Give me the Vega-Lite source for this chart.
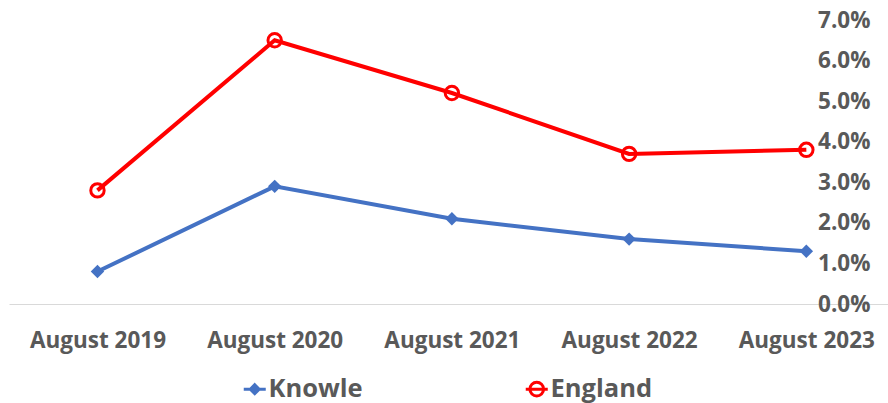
{
  "$schema": "https://vega.github.io/schema/vega-lite/v6.json",
  "width": 879,
  "height": 284,
  "autosize": "none",
  "padding": {"left": 9, "top": 20, "right": 0, "bottom": 99},
  "background": "white",
  "config": {"view": {"stroke": null}, "font": "Open Sans, sans-serif"},
  "data": {
    "values": [
      {"month": "August 2019", "series": "Knowle", "value": 0.008},
      {"month": "August 2020", "series": "Knowle", "value": 0.029},
      {"month": "August 2021", "series": "Knowle", "value": 0.021},
      {"month": "August 2022", "series": "Knowle", "value": 0.016},
      {"month": "August 2023", "series": "Knowle", "value": 0.013},
      {"month": "August 2019", "series": "England", "value": 0.028},
      {"month": "August 2020", "series": "England", "value": 0.065},
      {"month": "August 2021", "series": "England", "value": 0.052},
      {"month": "August 2022", "series": "England", "value": 0.037},
      {"month": "August 2023", "series": "England", "value": 0.038}
    ]
  },
  "encoding": {
    "x": {
      "field": "month", "type": "ordinal", "sort": null,
      "scale": {"type": "point", "padding": 0.48, "align": 0.52},
      "axis": {"title": null, "labelAngle": 0, "ticks": false, "grid": false,
        "domainColor": "#D9D9D9", "domainWidth": 1, "labelPadding": 25,
        "labelFontSize": 22.5, "labelFontWeight": "bold", "labelColor": "#595959"}
    },
    "y": {
      "field": "value", "type": "quantitative",
      "scale": {"domain": [0, 0.07]},
      "axis": {"orient": "right", "title": null,
        "values": [0, 0.01, 0.02, 0.03, 0.04, 0.05, 0.06, 0.07],
        "format": ".1%", "ticks": false, "domain": false, "grid": false,
        "offset": -18, "labelAlign": "right", "labelPadding": 0, "labelBaseline": "middle",
        "labelFontSize": 22.5, "labelFontWeight": "bold", "labelColor": "#595959"}
    }
  },
  "layer": [
    {
      "mark": {"type": "line", "strokeWidth": 4},
      "encoding": {
        "color": {
          "field": "series", "type": "nominal",
          "scale": {"domain": ["Knowle", "England"], "range": ["#4472C4", "#FF0000"]},
          "legend": {
            "orient": "none", "legendX": 233, "legendY": 356, "direction": "horizontal",
            "title": null, "labelFontSize": 25.5, "labelFontWeight": "bold", "labelColor": "#595959",
            "symbolSize": 484, "symbolStrokeWidth": 3, "columnPadding": 156, "labelOffset": 1, "padding": 0,
            "encode": {
              "symbols": {
                "update": {
                  "shape": {"signal": "datum.value === 'Knowle' ? 'M-1,0H1M0,-0.4L0.4,0L0,0.4L-0.4,0Z' : 'M-1,0H1M0.62,0A0.62,0.62 0 1,1 -0.62,0A0.62,0.62 0 1,1 0.62,0Z'"},
                  "fill": {"signal": "datum.value === 'Knowle' ? '#4472C4' : 'white'"},
                  "stroke": {"signal": "datum.value === 'Knowle' ? '#4472C4' : '#FF0000'"},
                  "strokeWidth": {"value": 3}
                }
              }
            }
          }
        }
      }
    },
    {
      "transform": [{"filter": "datum.series === 'Knowle'"}],
      "mark": {"type": "point", "shape": "diamond", "filled": true, "size": 180, "opacity": 1, "color": "#4472C4"}
    },
    {
      "transform": [{"filter": "datum.series === 'England'"}],
      "mark": {"type": "point", "shape": "circle", "filled": false, "size": 180, "strokeWidth": 3, "opacity": 1, "color": "#FF0000"}
    }
  ]
}
